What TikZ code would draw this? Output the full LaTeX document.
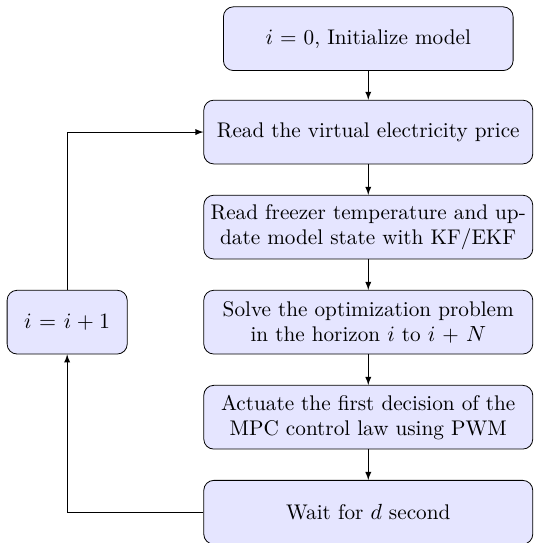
\documentclass[tikz,border=0pt]{standalone}
\usetikzlibrary{arrows}

\begin{document}
\begin{tikzpicture}[>=latex,
		block/.style={draw, fill=blue!10, rounded corners=5pt, align=center, minimum height=1.12cm, inner sep=.12cm, font=\fontsize{10.6pt}{12.6pt}\selectfont}]
		\useasboundingbox (0, 0) rectangle (9.38, -9.54);
		\node [block, text width=4.85cm] (Init) at (6.47, -.68) {$i$ = 0, Initialize model};
		\node [block, text width=5.54cm] (Price) at (6.47, -2.32) {Read the virtual electricity price};
		\node [block, text width=5.54cm] (Freezer) at (6.47, -3.99) {Read freezer temperature and up-\\date model state with KF/EKF};
		\node [block, text width=5.54cm] (Solve) at (6.47, -5.66) {Solve the optimization problem\\in the horizon $i$ to $i$ + $N$};
		\node [block, text width=5.54cm] (Actuate) at (6.47, -7.33) {Actuate the first decision of the\\MPC control law using PWM};
		\node [block, text width=5.54cm] (Wait) at (6.47, -9) {Wait for $d$ second};
		\node [block, text width=1.87cm] (Incr) at (1.18, -5.66) {$i = i + 1$};
		\draw [->] (Init) -- (Price);
		\draw [->] (Price) -- (Freezer);
		\draw [->] (Freezer) -- (Solve);
		\draw [->] (Solve) -- (Actuate);
		\draw [->] (Actuate) -- (Wait);
		\draw [->] (Wait.west) -| (Incr.south);
		\draw [->] (Incr.north) |- (Price.west);
	\end{tikzpicture}
\end{document}
